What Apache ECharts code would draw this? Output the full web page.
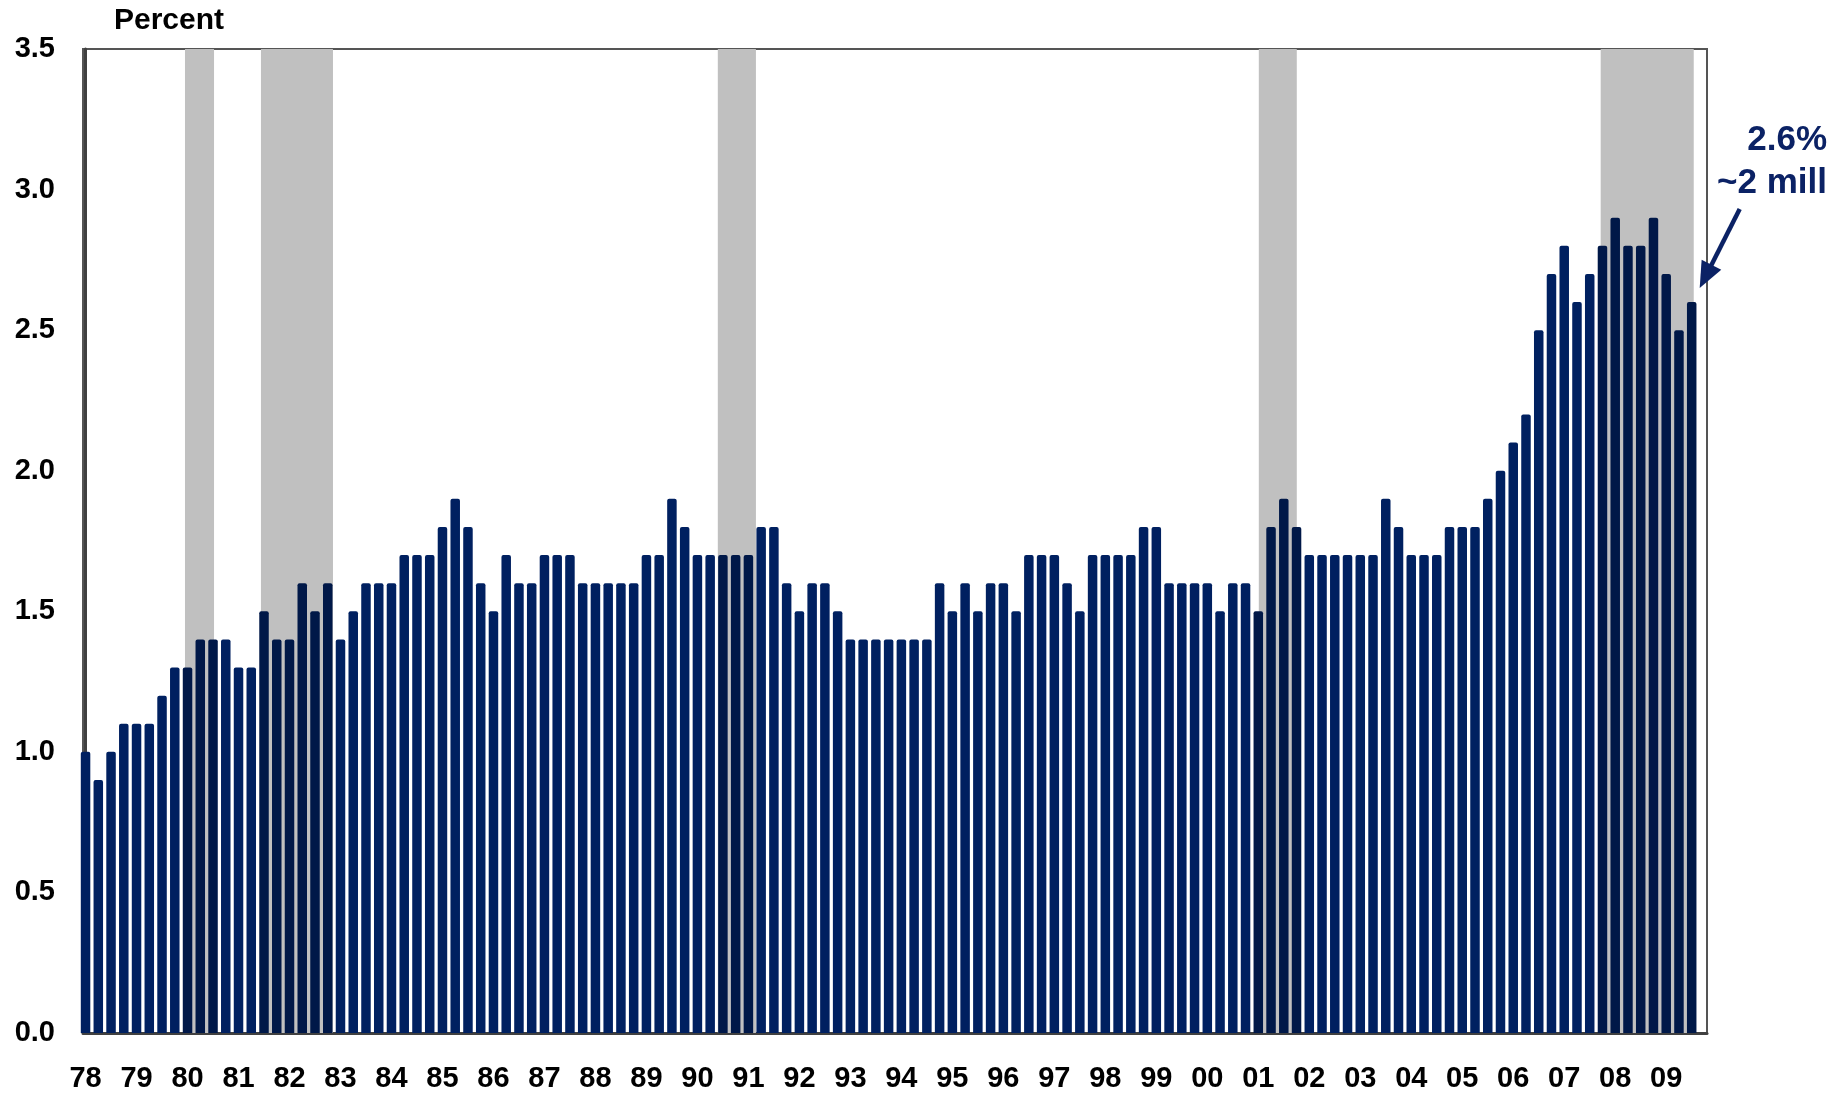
<!DOCTYPE html>
<html>
<head>
<meta charset="utf-8">
<script src="https://cdn.jsdelivr.net/npm/echarts@6/dist/echarts.min.js"></script>
<style>
  html, body { margin: 0; padding: 0; background: #fff; }
  #main { width: 1839px; height: 1098px; }
</style>
</head>
<body>
<div id="main"></div>
<script>
// year labels, one per Q1 (every 4th quarter)
var yearLabels = ['78', '79', '80', '81', '82', '83', '84', '85', '86', '87', '88',
  '89', '90', '91', '92', '93', '94', '95', '96', '97', '98', '99', '00', '01',
  '02', '03', '04', '05', '06', '07', '08', '09'];

// quarterly values, 1978Q1 .. 2009Q3 (percent)
var shareValues = [
  1.0, 0.9, 1.0, 1.1, 1.1, 1.1, 1.2, 1.3, 1.3, 1.4, 1.4, 1.4, 1.3, 1.3, 1.5, 1.4,
  1.4, 1.6, 1.5, 1.6, 1.4, 1.5, 1.6, 1.6, 1.6, 1.7, 1.7, 1.7, 1.8, 1.9, 1.8, 1.6,
  1.5, 1.7, 1.6, 1.6, 1.7, 1.7, 1.7, 1.6, 1.6, 1.6, 1.6, 1.6, 1.7, 1.7, 1.9, 1.8,
  1.7, 1.7, 1.7, 1.7, 1.7, 1.8, 1.8, 1.6, 1.5, 1.6, 1.6, 1.5, 1.4, 1.4, 1.4, 1.4,
  1.4, 1.4, 1.4, 1.6, 1.5, 1.6, 1.5, 1.6, 1.6, 1.5, 1.7, 1.7, 1.7, 1.6, 1.5, 1.7,
  1.7, 1.7, 1.7, 1.8, 1.8, 1.6, 1.6, 1.6, 1.6, 1.5, 1.6, 1.6, 1.5, 1.8, 1.9, 1.8,
  1.7, 1.7, 1.7, 1.7, 1.7, 1.7, 1.9, 1.8, 1.7, 1.7, 1.7, 1.8, 1.8, 1.8, 1.9, 2.0,
  2.1, 2.2, 2.5, 2.7, 2.8, 2.6, 2.7, 2.8, 2.9, 2.8, 2.8, 2.9, 2.7, 2.5, 2.6
];

// recession shading, in quarter-index units (0 = 1978Q1)
var recessionSpans = [[7.80, 10.08], [13.76, 19.41], [49.6, 52.59], [92.04, 95.02], [118.86, 126.16]];

var calloutLines = ['2.6%', '~2 mill'];

var font = 'Arial, "Liberation Sans", sans-serif';
var navy = '#002060';
var navyShaded = '#001848';
var arrowColor = '#0b2265';

function inRecession(i) {
  for (var k = 0; k < recessionSpans.length; k++) {
    if (i >= recessionSpans[k][0] - 0.1 && i <= recessionSpans[k][1] + 0.1) return true;
  }
  return false;
}

var barData = shareValues.map(function (v, i) {
  return { value: [i, v], itemStyle: { color: inRecession(i) ? navyShaded : navy } };
});

var Chart = echarts.init(document.getElementById('main'));

var option = {
  animation: false,
  backgroundColor: '#fff',
  title: {
    text: 'Percent',
    left: 114,
    top: 6,
    padding: 0,
    textStyle: { fontFamily: font, fontSize: 30, fontWeight: 'bold', color: '#000' }
  },
  grid: {
    left: 83, right: 132, top: 49, bottom: 65,
    show: true,
    borderColor: '#555',
    borderWidth: 2
  },
  xAxis: {
    type: 'value',
    min: -0.2,
    max: 127.2,
    axisLine: { show: true, onZero: false, lineStyle: { color: '#404040', width: 3 } },
    axisTick: { show: false },
    splitLine: { show: false },
    axisLabel: {
      customValues: yearLabels.map(function (_, k) { return k * 4; }),
      formatter: function (v) { return yearLabels[Math.round(v / 4)]; },
      margin: 31,
      fontFamily: font,
      fontSize: 29,
      fontWeight: 'bold',
      color: '#000'
    }
  },
  yAxis: {
    type: 'value',
    min: 0,
    max: 3.5,
    interval: 0.5,
    axisLine: { show: true, lineStyle: { color: '#404040', width: 3 } },
    axisTick: { show: false },
    splitLine: { show: false },
    axisLabel: {
      formatter: function (v) { return v.toFixed(1); },
      margin: 28,
      fontFamily: font,
      fontSize: 29,
      fontWeight: 'bold',
      color: '#000'
    }
  },
  series: [
    {
      // recession bands
      type: 'line',
      data: [],
      z: 1,
      silent: true,
      markArea: {
        silent: true,
        itemStyle: { color: '#c0c0c0' },
        data: recessionSpans.map(function (s) {
          return [{ xAxis: s[0] }, { xAxis: s[1] }];
        })
      }
    },
    {
      type: 'bar',
      z: 3,
      barWidth: 9.5,
      clip: true,
      itemStyle: { borderRadius: [2, 2, 0, 0] },
      data: barData
    }
  ]
};

Chart.setOption(option);

// callout arrow pointing at the latest bar
var lastIdx = shareValues.length - 1;
var barTop = Chart.convertToPixel({ seriesIndex: 1 }, [lastIdx, shareValues[lastIdx]]);
var tip = [barTop[0] + 8, barTop[1] - 14];
var tail = [tip[0] + 40, tip[1] - 79];
var dx = tip[0] - tail[0], dy = tip[1] - tail[1];
var len = Math.sqrt(dx * dx + dy * dy);
var ux = dx / len, uy = dy / len;
var headLen = 26, headHalf = 11;
var base = [tip[0] - ux * headLen, tip[1] - uy * headLen];

Chart.setOption({
  graphic: [
    {
      type: 'line',
      z: 10,
      shape: { x1: tail[0], y1: tail[1], x2: base[0] + ux * 4, y2: base[1] + uy * 4 },
      style: { stroke: arrowColor, lineWidth: 4.5 }
    },
    {
      type: 'polygon',
      z: 10,
      shape: {
        points: [
          tip,
          [base[0] - uy * headHalf, base[1] + ux * headHalf],
          [base[0] + uy * headHalf, base[1] - ux * headHalf]
        ]
      },
      style: { fill: arrowColor }
    },
    {
      type: 'text',
      z: 10,
      x: 1827,
      y: 140,
      style: {
        text: calloutLines[0], align: 'right', verticalAlign: 'middle',
        font: 'bold 35px ' + font, fill: arrowColor
      }
    },
    {
      type: 'text',
      z: 10,
      x: 1827,
      y: 183,
      style: {
        text: calloutLines[1], align: 'right', verticalAlign: 'middle',
        font: 'bold 35px ' + font, fill: arrowColor
      }
    }
  ]
});
</script>
</body>
</html>
